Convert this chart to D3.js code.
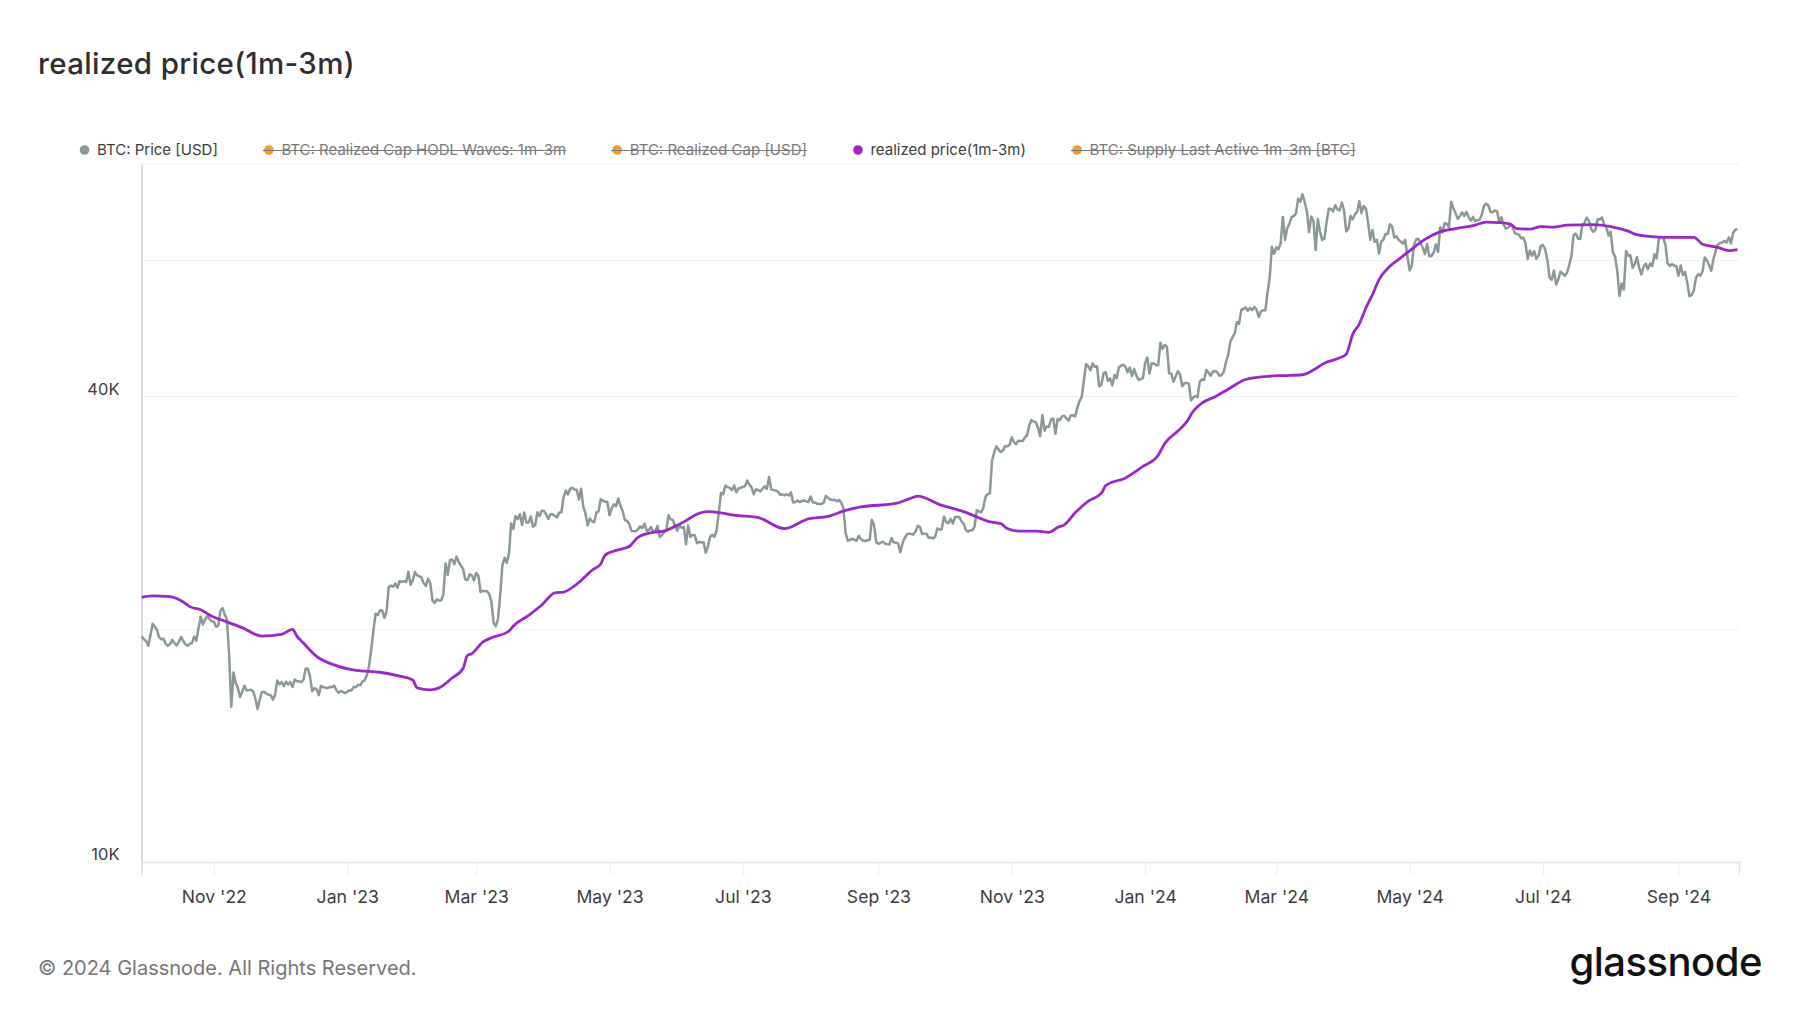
<!DOCTYPE html>
<html><head><meta charset="utf-8">
<script src="https://cdn.jsdelivr.net/npm/d3@7"></script>
<style>
html,body{margin:0;padding:0;background:#fff;}
svg{display:block;font-family:Inter,"Noto Sans",sans-serif;}
</style></head><body>
<svg id="chart" width="1800" height="1013"></svg>
<script>
// ---------------- DATA ----------------
const chartTitle = "realized price(1m-3m)";
const footerText = "\u00A9 2024 Glassnode. All Rights Reserved.";
const logoText = "glassnode";

const legendNames = ["BTC: Price [USD]", "BTC: Realized Cap HODL Waves: 1m-3m", "BTC: Realized Cap [USD]", "realized price(1m-3m)", "BTC: Supply Last Active 1m-3m [BTC]"];
const legendColors = ["#8b9898", "#f39a2b", "#f39a2b", "#9b27c8", "#f39a2b"];
const legendHidden = [false, true, true, false, true];

// BTC price, daily, in thousand USD, starting 2022-09-29
const priceStart = "2022-09-29";
const price2022 = [19.6,19.42,
19.31,19.05,19.63,20.34,20.16,19.96,19.53,19.42,19.45,19.14,19.05,19.15,19.38,19.19,19.07,19.27,19.55,19.33,19.13,19.04,19.16,19.2,19.57,19.33,20.08,20.77,20.29,20.59,20.81,20.63,20.49,
20.48,20.16,20.21,21.15,21.3,20.9,20.59,18.54,15.88,17.59,17.04,16.8,16.35,16.62,16.9,16.67,16.69,16.7,16.63,16.29,15.78,16.22,16.6,16.6,16.52,16.46,16.44,16.22,16.44,17.17,
16.98,17.09,16.89,17.11,16.97,17.09,16.84,17.22,17.13,17.13,17.09,17.21,17.78,17.8,17.36,16.63,16.78,16.74,16.44,16.9,16.83,16.82,16.78,16.84,16.83,16.92,16.7,16.55,16.64,16.6,16.54];
const price2023 = [
16.61,16.67,16.67,16.85,16.83,16.95,16.94,17.12,17.18,17.44,17.94,18.85,19.93,20.95,20.87,21.17,21.16,20.69,21.08,22.68,22.78,22.71,22.93,22.64,23.08,23.03,23.09,23.03,23.74,22.84,23.14,
23.72,23.49,23.43,23.33,22.94,22.76,23.25,22.96,21.8,21.63,21.86,21.79,21.79,22.2,24.33,23.52,24.57,24.63,24.28,24.84,24.44,24.19,23.95,23.2,23.16,23.56,23.49,23.14,
23.65,23.47,22.35,22.43,22.41,22.41,22.2,21.7,20.36,20.19,20.63,22.16,24.2,24.75,24.38,25.05,27.42,26.97,28.04,27.77,28.17,27.3,28.33,27.49,27.49,27.99,27.14,27.27,28.35,28.03,28.48,
28.45,28.2,27.79,28.17,28.17,28.03,27.92,28.33,28.33,29.65,30.24,29.9,30.4,30.49,30.32,30.32,29.44,30.4,28.82,28.25,27.27,27.82,27.59,27.51,28.31,28.42,29.47,29.34,29.25,29.23,
28.09,28.68,29.03,28.85,29.53,28.9,28.45,27.7,27.62,27.39,26.83,26.78,26.78,26.93,27.19,27.03,27.4,26.83,26.89,27.12,26.75,26.85,27.22,26.33,26.48,26.72,26.87,28.09,27.75,27.7,27.22,
26.82,27.25,27.07,27.12,25.76,27.24,26.34,26.5,26.48,25.85,25.94,25.9,25.93,25.12,25.58,26.34,26.51,26.34,26.85,28.33,30.03,29.91,30.7,30.55,30.48,30.27,30.7,30.08,30.45,30.48,
30.59,30.62,31.16,30.77,30.51,29.9,30.35,30.29,30.17,30.41,30.62,30.39,31.48,30.33,30.3,30.25,30.15,29.86,29.91,29.8,29.91,29.8,30.09,29.18,29.23,29.35,29.22,29.32,29.36,29.28,29.23,
29.71,29.19,29.18,29.07,29.05,29.06,29.18,29.77,29.58,29.45,29.4,29.42,29.29,29.41,29.17,28.7,26.66,26.05,26.1,26.19,26.12,26.04,26.43,26.17,26.05,26.01,26.09,26.1,27.73,27.3,25.93,
25.8,25.87,25.97,25.83,25.78,25.75,26.24,25.9,25.9,25.84,25.16,25.84,26.23,26.54,26.6,26.57,26.53,26.77,27.21,27.13,26.57,26.58,26.58,26.26,26.3,26.22,26.37,27.02,26.91,26.97,
27.99,27.53,27.43,27.8,27.41,27.95,27.97,27.94,27.6,27.39,26.88,26.76,26.86,26.86,27.16,28.52,28.42,28.33,28.72,29.68,29.92,29.99,33.09,33.9,34.5,34.16,33.91,34.09,34.54,34.5,34.67,
35.44,34.94,34.73,35.08,35.05,35.04,35.42,35.64,36.7,37.31,37.13,37.07,36.49,35.55,37.88,36.15,36.6,36.58,37.39,37.47,35.81,37.42,37.29,37.72,37.8,37.48,37.25,37.83,37.85,37.72,
38.69,39.48,39.98,41.98,44.08,43.77,43.29,44.17,43.72,43.79,41.24,41.45,42.89,43.02,41.93,42.24,41.36,42.66,42.26,43.65,43.87,43.99,43.74,43.02,43.61,42.52,43.44,42.58,42.07,42.14,42.28];
const price2024 = [
44.18,44.95,42.85,44.18,44.16,43.97,43.93,46.97,46.12,46.66,46.39,42.85,42.84,41.8,42.51,43.15,42.74,41.26,41.62,41.67,41.58,39.57,39.89,40.08,39.94,41.82,42.12,42.04,43.3,42.95,42.58,
43.08,43.19,43.0,42.58,42.66,43.09,44.34,45.29,47.15,47.77,48.29,49.96,49.7,51.81,51.94,52.16,51.66,52.12,51.78,52.26,51.84,50.73,51.57,51.73,51.73,54.48,57.05,62.5,61.2,
62.44,62.03,63.17,68.33,63.8,66.1,66.93,68.3,68.5,69.02,72.12,71.48,73.08,71.4,69.4,65.3,68.39,67.55,61.9,67.91,65.49,63.78,64.06,67.21,70.0,69.99,69.45,70.74,69.88,69.65,71.33,
69.7,65.45,65.98,68.51,67.84,68.9,69.36,71.62,69.14,70.59,70.06,67.2,63.83,65.74,63.42,63.81,61.28,63.51,63.84,64.99,64.93,66.84,66.41,64.28,64.5,63.77,63.46,63.12,63.84,60.64,
58.25,59.12,62.89,63.89,64.03,63.16,62.33,61.19,63.05,60.79,60.82,61.48,62.94,61.58,66.27,65.23,67.05,66.94,66.28,71.45,70.14,69.12,67.93,68.53,69.27,68.51,69.39,68.3,67.58,68.36,67.49,
67.71,67.75,68.8,70.57,71.08,70.76,69.34,69.3,69.65,69.51,67.32,68.24,66.76,66.01,66.19,66.64,66.49,65.14,64.96,64.83,64.1,64.25,63.18,60.28,61.8,60.86,61.67,60.32,60.89,62.68,
62.85,62.03,60.2,57.04,56.66,58.23,55.86,56.71,58.05,57.72,57.34,57.89,59.2,60.8,64.72,65.04,64.09,63.99,66.71,67.15,68.19,67.55,65.94,65.37,65.8,67.91,67.81,68.25,66.78,66.19,64.62,
65.35,61.5,60.68,58.12,53.99,56.03,55.03,61.71,60.88,60.94,58.71,59.35,60.61,58.74,57.56,58.87,59.48,58.48,59.49,59.01,61.16,60.38,64.09,64.18,64.26,62.88,59.5,59.03,59.38,59.12,58.97,
57.33,59.13,57.48,57.97,56.16,53.95,54.14,54.84,57.02,57.64,57.34,58.13,60.57,60.0,59.18,58.2,60.31,61.76,62.95,63.2,63.35,63.58,63.34,64.28,63.14,65.18,65.79,65.88];

// realized price (1m-3m), thousand USD
const rpDates = ["2022-09-29","2022-10-04","2022-10-12","2022-10-18","2022-10-21","2022-10-26","2022-10-31","2022-11-06","2022-11-14","2022-11-23","2022-12-02","2022-12-07","2022-12-09","2022-12-12","2022-12-18","2022-12-27",
"2023-01-05","2023-01-16","2023-01-25","2023-01-31","2023-02-02","2023-02-08","2023-02-12","2023-02-18","2023-02-23","2023-02-25","2023-02-27","2023-03-04","2023-03-08","2023-03-16","2023-03-18","2023-03-25","2023-03-31",
"2023-04-06","2023-04-10","2023-04-17","2023-04-23","2023-04-27","2023-04-29","2023-05-04","2023-05-10","2023-05-14","2023-05-21","2023-05-26","2023-05-30","2023-06-05","2023-06-09","2023-06-15","2023-06-21","2023-06-27",
"2023-07-08","2023-07-20","2023-07-31","2023-08-09","2023-08-17","2023-08-24","2023-09-09","2023-09-15","2023-09-19","2023-09-29","2023-10-10","2023-10-22","2023-10-27","2023-10-30","2023-11-04","2023-11-12","2023-11-18",
"2023-11-22","2023-11-25","2023-11-30","2023-12-06","2023-12-12","2023-12-14","2023-12-23","2023-12-31","2024-01-07","2024-01-10","2024-01-16","2024-01-20","2024-01-23","2024-01-27","2024-02-02","2024-02-08","2024-02-16",
"2024-02-26","2024-03-04","2024-03-13","2024-03-18","2024-03-23","2024-03-29","2024-04-02","2024-04-05","2024-04-08","2024-04-11","2024-04-14","2024-04-17","2024-04-22","2024-04-26","2024-05-02","2024-05-08","2024-05-14",
"2024-05-22","2024-05-31","2024-06-05","2024-06-11","2024-06-16","2024-06-19","2024-06-25","2024-06-30","2024-07-06","2024-07-12","2024-07-24","2024-08-01","2024-08-09","2024-08-13","2024-08-21","2024-08-30","2024-09-08",
"2024-09-12","2024-09-19","2024-09-24","2024-09-28"];
const rpValues = [22.0,22.1,22.05,21.7,21.4,21.2,20.8,20.5,20.1,19.6,19.7,20.0,19.6,19.2,18.45,17.95,
17.7,17.6,17.4,17.2,16.8,16.7,16.8,17.3,17.8,18.5,18.6,19.25,19.5,19.9,20.2,20.85,21.5,
22.3,22.35,23.0,23.85,24.3,24.95,25.3,25.6,26.3,26.7,26.8,27.1,27.65,28.1,28.4,28.3,28.1,
27.9,27.0,27.8,28.0,28.5,28.8,29.1,29.5,29.75,29.0,28.4,27.55,27.4,27.0,26.8,26.8,26.7,
27.1,27.3,28.3,29.3,30.0,30.7,31.4,32.5,33.6,34.8,36.1,37.1,38.3,39.25,40.0,40.9,42.1,
42.5,42.6,42.7,43.3,44.2,44.8,45.4,48.2,49.7,52.1,54.2,56.7,59.0,60.2,62.1,63.9,65.2,
66.0,66.7,67.3,67.2,66.9,66.0,65.9,66.4,66.3,66.7,66.8,66.4,65.5,64.8,64.4,64.3,64.3,
63.0,62.4,61.8,62.0];

const xTickLabels = ["Nov '22","Jan '23","Mar '23","May '23","Jul '23","Sep '23","Nov '23","Jan '24","Mar '24","May '24","Jul '24","Sep '24"];
const yTickValues = [10000, 40000];
const yTickLabels = ["10K", "40K"];
const yGridValues = [20000, 40000, 60000, 80000];
const yDomain = [10000, 80000];
const xDomain = ["2022-09-28T22:00:00Z", "2024-09-28T16:00:00Z"];

// ---------------- CHART ----------------
const svg = d3.select("#chart");
const W = 1800, H = 1013;
const plot = {left: 141.5, right: 1739, top: 164, bottom: 862};

const parse = d3.utcParse("%Y-%m-%d");
const start = parse(priceStart);
const allPrice = price2022.concat(price2023, price2024);
const priceData = allPrice.map((v, i) => ({date: d3.utcDay.offset(start, i), value: v * 1000}));
const rpData = rpDates.map((d, i) => ({date: parse(d), value: rpValues[i] * 1000}));

const x = d3.scaleUtc().domain(xDomain.map(d => new Date(d))).range([plot.left, plot.right]);
const y = d3.scaleLog().domain(yDomain).range([plot.bottom, plot.top]);

svg.append("rect").attr("width", W).attr("height", H).attr("fill", "#fff");

// title
svg.append("text").attr("x", 38).attr("y", 74).attr("font-size", 29.5).attr("font-weight", 500)
  .attr("letter-spacing", 0.35).attr("fill", "#2e2e2e").text(chartTitle);

// gridlines
svg.append("g").selectAll("line").data(yGridValues).join("line")
  .attr("x1", plot.left).attr("x2", plot.right)
  .attr("y1", d => y(d)).attr("y2", d => y(d))
  .attr("stroke", "#efefef").attr("stroke-width", 1);

// x axis
const xTicks = d3.utcMonth.every(2).range(x.domain()[0], x.domain()[1]);
const xAxis = d3.axisBottom(x).tickValues(xTicks).tickSize(13).tickPadding(16)
  .tickFormat((d, i) => xTickLabels[i]);
const gx = svg.append("g").attr("transform", `translate(0,${plot.bottom})`).call(xAxis);
gx.select(".domain").attr("stroke", "#e3e3e3").attr("stroke-width", 1.5);
gx.selectAll(".tick line").attr("stroke", "#eeeeee").attr("stroke-width", 1);
gx.selectAll(".tick text").attr("font-size", 17.6).attr("fill", "#3d3d3d").attr("font-family", "Inter");

// y axis
const yAxis = d3.axisLeft(y).tickValues(yTickValues).tickSize(0).tickPadding(22)
  .tickFormat((d, i) => yTickLabels[i]);
const gy = svg.append("g").attr("transform", `translate(${plot.left},0)`).call(yAxis);
gy.select(".domain").attr("stroke", "#cfcfcf").attr("stroke-width", 1.5);
gy.selectAll(".tick text").attr("font-size", 16.5).attr("fill", "#3d3d3d").attr("font-family", "Inter")
  .attr("dy", "-0.14em");

// lines
const line = d3.line().x(d => x(d.date)).y(d => y(d.value));
svg.append("path").datum(priceData).attr("d", line).attr("fill", "none")
  .attr("stroke", legendColors[0]).attr("stroke-width", 2.5).attr("stroke-linejoin", "round");
svg.append("path").datum(rpData).attr("d", line.curve(d3.curveMonotoneX)).attr("fill", "none")
  .attr("stroke", legendColors[3]).attr("stroke-width", 2.8).attr("stroke-linejoin", "round");

// legend
const lg = svg.append("g").attr("font-size", 15);
let lx = 84.5;
const ly = 150;
legendNames.forEach((name, i) => {
  const g = lg.append("g");
  g.append("circle").attr("cx", lx).attr("cy", ly).attr("r", 4.8).attr("fill", legendColors[i]);
  const t = g.append("text").attr("x", lx + 12.5).attr("y", ly + 5.2).text(name)
    .attr("fill", legendHidden[i] ? "#7a7a7a" : "#3d3d3d");
  const w = t.node().getComputedTextLength();
  if (legendHidden[i]) {
    g.append("line").attr("x1", lx - 6).attr("x2", lx + 12.5 + w).attr("y1", ly + 0.5).attr("y2", ly + 0.5)
      .attr("stroke", "#7a7a7a").attr("stroke-width", 1.1);
  }
  lx = lx + 12.5 + w + 51;
});

// footer
svg.append("text").attr("x", 38).attr("y", 975).attr("font-size", 20).attr("fill", "#767676").text(footerText);
svg.append("text").attr("x", 1762).attr("y", 976).attr("text-anchor", "end").attr("font-size", 40)
  .attr("font-weight", 500).attr("letter-spacing", -0.5).attr("fill", "#111").text(logoText);
</script>
</body></html>
